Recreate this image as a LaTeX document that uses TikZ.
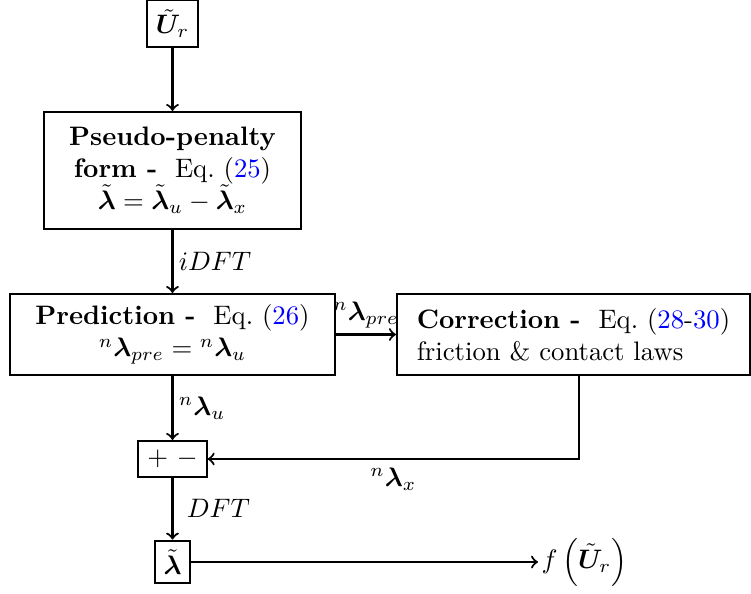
\documentclass[tikz,border=0pt]{standalone}
\usepackage{amsmath,bm}
\usepackage{xcolor}
\usetikzlibrary{calc}
\begin{document}
\begin{tikzpicture}[x=0.3745pt,y=-0.3745pt,
  every path/.style={line width=0.8pt},
  box/.style={draw,line width=0.8pt},
  arr/.style={->,line width=0.8pt},
  lab/.style={inner sep=2pt}]
\useasboundingbox (0,0) rectangle (751,593);
\node[box] (ur) at (172.5,23.5) {$\tilde{\bm{U}}_r$};
\node[box,align=center,minimum width=96.2pt,minimum height=43.8pt] (pp) at (172.5,170.5)
  {\textbf{Pseudo-penalty}\\ \textbf{form -}~ Eq.~(\textcolor{blue}{25})\\ $\tilde{\bm{\lambda}}=\tilde{\bm{\lambda}}_u-\tilde{\bm{\lambda}}_x$};
\node[box,align=center,minimum width=121.7pt,minimum height=30.3pt] (pred) at (172.5,334.5)
  {\textbf{Prediction -}~ Eq.~(\textcolor{blue}{26})\\ ${}^{n}\bm{\lambda}_{pre}={}^{n}\bm{\lambda}_u$};
\node[box,align=left,minimum width=132.2pt,minimum height=30.3pt] (corr) at (573.5,334.5)
  {\textbf{Correction -}~ Eq.~(\textcolor{blue}{28}-\textcolor{blue}{30})\\ friction \& contact laws};
\node[box,minimum width=25pt,minimum height=13.5pt] (pm) at (172.5,459) {$+$ $-$};
\node[box] (lam) at (172.5,562) {$\tilde{\bm{\lambda}}$};
\node[anchor=west,inner sep=1pt] (f) at (538,562) {$f\left(\tilde{\bm{U}}_r\right)$};
\coordinate (cb) at (579,375);

\draw[arr] (ur) -- (pp);
\draw[arr] (pp) -- node[right,lab] {$iDFT$} (pred);
\draw[arr] (pred) -- node[above,lab] {${}^{n}\bm{\lambda}_{pre}$} (corr);
\draw[arr] (pred) -- node[right,lab] {${}^{n}\bm{\lambda}_u$} (pm);
\draw[arr] (cb) |- node[pos=0.75,below,inner sep=3pt] {${}^{n}\bm{\lambda}_x$} (pm);
\draw[arr] (pm) -- node[right,lab,inner sep=5pt] {$DFT$} (lam);
\draw[arr] (lam.east) -- (lam.east -| f.west);
\end{tikzpicture}
\end{document}
